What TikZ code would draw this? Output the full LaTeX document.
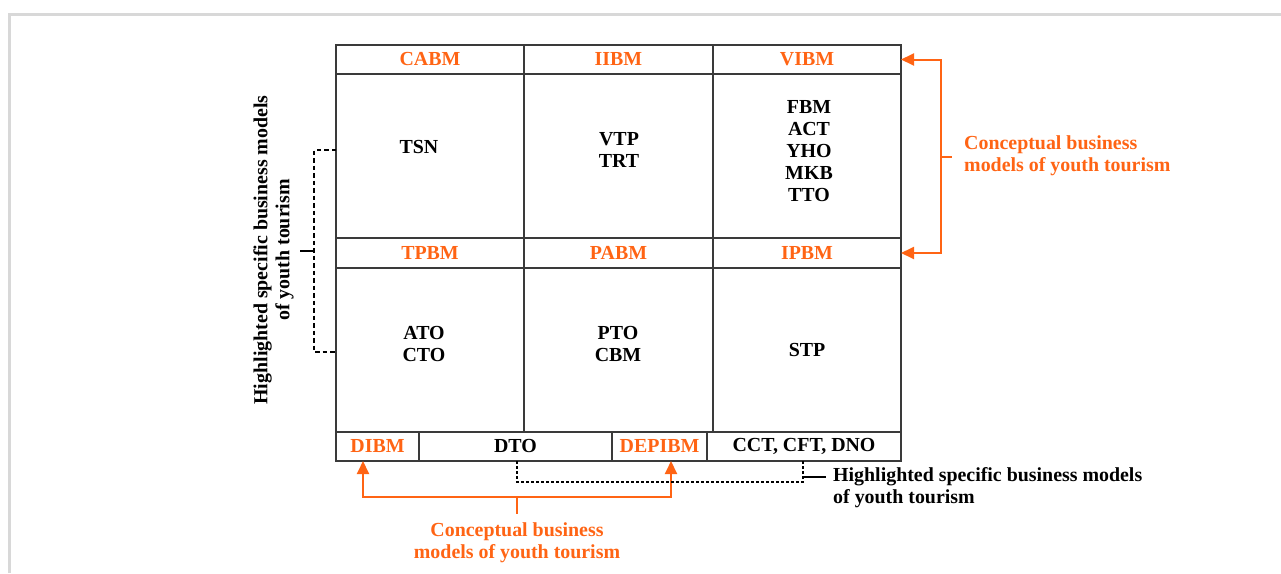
\documentclass[tikz,border=0pt]{standalone}
\usepackage{fontspec}
\setmainfont{Liberation Serif}
\usetikzlibrary{arrows.meta}
\definecolor{org}{HTML}{FF6414}
\definecolor{gridc}{HTML}{3A3A3A}
\definecolor{framec}{HTML}{D8D8D8}
\tikzset{
  txt/.style={font=\fontsize{19.9}{22}\selectfont\bfseries, inner sep=0pt, align=center},
  cell/.style={draw=gridc, line width=1.5pt, inner sep=0pt, outer sep=0pt, txt},
  hcell/.style={cell, text=org},
  oarr/.style={draw=org, line width=2pt, -{Triangle[length=13pt,width=12pt]}},
  oline/.style={draw=org, line width=2pt},
  ddash/.style={draw=black, line width=2.2pt, dash pattern=on 4.5pt off 3pt},
  bdash/.style={draw=black, line width=1.6pt, dash pattern=on 3pt off 2pt},
  bline/.style={draw=black, line width=1.6pt}
}
\begin{document}
\begin{tikzpicture}[x=1pt,y=-1pt]
\useasboundingbox (0,0) rectangle (1281,573);
\draw[framec, line width=3pt] (9.5,573) -- (9.5,14.5) -- (1281,14.5);
% header row 1
\node[hcell, minimum width=188pt, minimum height=29pt] (hCABM) at (430,59.5) {CABM};
\node[hcell, minimum width=189pt, minimum height=29pt] (hIIBM) at (618.5,59.5) {IIBM};
\node[hcell, minimum width=188pt, minimum height=29pt] (hVIBM) at (807,59.5) {VIBM};
% body row 1
\node[cell, minimum width=188pt, minimum height=164pt] (b11) at (430,156) {};
\node[cell, minimum width=189pt, minimum height=164pt] (b12) at (618.5,156) {};
\node[cell, minimum width=188pt, minimum height=164pt] (b13) at (807,156) {};
% header row 2
\node[hcell, minimum width=188pt, minimum height=30pt] (hTPBM) at (430,253) {TPBM};
\node[hcell, minimum width=189pt, minimum height=30pt] (hPABM) at (618.5,253) {PABM};
\node[hcell, minimum width=188pt, minimum height=30pt] (hIPBM) at (807,253) {IPBM};
% body row 2
\node[cell, minimum width=188pt, minimum height=164pt] (b21) at (430,350) {};
\node[cell, minimum width=189pt, minimum height=164pt] (b22) at (618.5,350) {};
\node[cell, minimum width=188pt, minimum height=164pt] (b23) at (807,350) {};
% bottom row
\node[hcell, minimum width=83pt, minimum height=29pt] (dibm) at (377.5,446.5) {DIBM};
\node[cell, minimum width=193pt, minimum height=29pt] (dto) at (515.5,446.5) {DTO};
\node[hcell, minimum width=95pt, minimum height=29pt] (depibm) at (659.5,446.5) {DEPIBM};
\node[cell, minimum width=194pt, minimum height=29pt] (cct) at (804,446.5) {CCT, CFT, DNO};
% body texts
\node[txt] (tTSN) at (419,147) {TSN};
\node[txt] (tVTP) at (619,150) {VTP\\TRT};
\node[txt] (tFBM) at (809,151.5) {FBM\\ACT\\YHO\\MKB\\TTO};
\node[txt] (tATO) at (424,344) {ATO\\CTO};
\node[txt] (tPTO) at (618,344) {PTO\\CBM};
\node[txt] (tSTP) at (807,350) {STP};
% right orange bracket
\coordinate (rb) at (941,157);
\coordinate (rbt) at (952,157);
\draw[oarr] (rb) |- (hVIBM.east);
\draw[oarr] (rb) |- (hIPBM.east);
\draw[oline] (rb) -- (rbt);
\node[txt, text=org, align=left, anchor=west] (rlab) at (964,156) {Conceptual business\\models of youth tourism};
% bottom orange bracket
\coordinate (bo) at (517,497);
\coordinate (bot) at (517,514);
\draw[oarr] (bo) -| ([xshift=-14.5pt]dibm.south);
\draw[oarr] (bo) -| ([xshift=11.5pt]depibm.south);
\draw[oline] (bo) -- (bot);
\node[txt, text=org] (blab) at (517,543) {Conceptual business\\models of youth tourism};
% left dashed bracket
\coordinate (lb) at (314,251);
\coordinate (lbt) at (300,251);
\draw[ddash] ([yshift=6pt]b11.west) -| (lb) |- ([yshift=-2pt]b21.west);
\draw[line width=2pt] (lb) -- (lbt);
\node[txt, rotate=90] (llab) at (273.5,250) {Highlighted specific business models\\of youth tourism};
% bottom dashed bracket
\coordinate (bd) at (803,482);
\coordinate (bdt) at (803,477);
\coordinate (bdt2) at (826,477);
\draw[bdash] ([xshift=1.5pt]dto.south) |- (bd) -- (bd |- cct.south);
\draw[bline] (bdt) -- (bdt2);
\node[txt, align=left, anchor=west] (rblab) at (833,488) {Highlighted specific business models\\of youth tourism};
\end{tikzpicture}
\end{document}
